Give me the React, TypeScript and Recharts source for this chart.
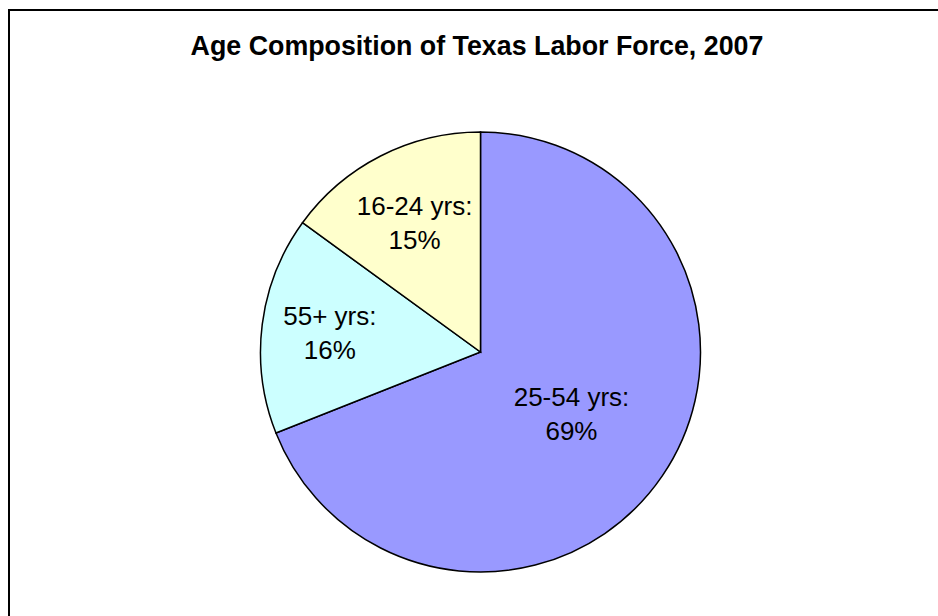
import React from 'react';
import { PieChart, Pie, Cell } from 'recharts';

const categories = ['25-54 yrs', '55+ yrs', '16-24 yrs'];
const shares = [69, 16, 15];
const sliceColors = ['#9999FF', '#CCFFFF', '#FFFFCC'];
// how far out along each slice's middle the label sits (fraction of radius)
const labelRadius = [0.5, 0.69, 0.66];

const data = categories.map((name, i) => ({ name, value: shares[i] }));

const RADIAN = Math.PI / 180;
const FONT = '"Liberation Sans", Arial, Helvetica, sans-serif';

const renderLabel = (props: any) => {
  const { cx, cy, midAngle, outerRadius, index, name, value } = props;
  const r = outerRadius * labelRadius[index];
  const x = cx + r * Math.cos(-midAngle * RADIAN);
  const y = cy + r * Math.sin(-midAngle * RADIAN);
  return (
    <text
      x={x}
      y={y}
      textAnchor="middle"
      fill="#000"
      fontSize={26}
      fontFamily={FONT}
    >
      <tspan x={x} y={y - 8}>{`${name}:`}</tspan>
      <tspan x={x} y={y + 26}>{`${value}%`}</tspan>
    </text>
  );
};

export default function App() {
  return (
    <div
      style={{
        position: 'fixed',
        left: 0,
        top: 0,
        width: 938,
        height: 616,
        overflow: 'hidden',
        background: '#fff'
      }}
    >
      <div
        style={{
          position: 'absolute',
          left: 8,
          top: 9,
          width: 1000,
          height: 700,
          border: '2px solid #000',
          boxSizing: 'border-box'
        }}
      />
      <div
        style={{
          position: 'absolute',
          left: 0,
          top: 33,
          width: 954,
          textAlign: 'center',
          fontFamily: FONT,
          fontWeight: 'bold',
          fontSize: 26.8,
          lineHeight: '26.8px',
          color: '#000'
        }}
      >
        Age Composition of Texas Labor Force, 2007
      </div>
      <div style={{ position: 'absolute', left: 0, top: 0 }}>
        <PieChart
          width={938}
          height={616}
          margin={{ top: 0, right: 0, bottom: 0, left: 0 }}
        >
          <Pie
            data={data}
            dataKey="value"
            nameKey="name"
            cx={480.5}
            cy={352}
            outerRadius={220}
            startAngle={90}
            endAngle={-270}
            stroke="#000"
            strokeWidth={1.5}
            label={renderLabel}
            labelLine={false}
            isAnimationActive={false}
          >
            {data.map((d, i) => (
              <Cell key={d.name} fill={sliceColors[i]} />
            ))}
          </Pie>
        </PieChart>
      </div>
    </div>
  );
}
